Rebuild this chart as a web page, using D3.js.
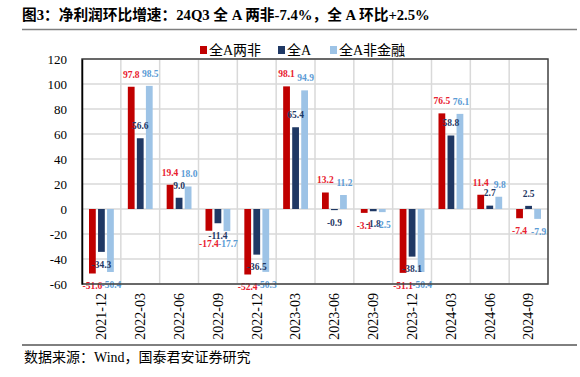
<!DOCTYPE html>
<html>
<head>
<meta charset="utf-8">
<script src="https://cdn.jsdelivr.net/npm/d3@7"></script>
<style>
  body { margin: 0; background: #fff; }
  svg { display: block; }
</style>
</head>
<body>
<div id="chart"></div>
<script>
const categories = ["2021-12", "2022-03", "2022-06", "2022-09", "2022-12", "2023-03",
    "2023-06", "2023-09", "2023-12", "2024-03", "2024-06", "2024-09"];
const seriesNames = ["全A两非", "全A", "全A非金融"];
const liangfei = [-51.6, 97.8, 19.4, -17.4, -52.4, 98.1, 13.2, -3.1, -51.1, 76.5, 11.4, -7.4];
const quanA = [-34.3, 56.6, 9.0, -11.4, -36.5, 65.4, -0.9, -1.8, -38.1, 58.8, 2.7, 2.5];
const feijinrong = [-50.4, 98.5, 18.0, -17.7, -50.3, 94.9, 11.2, -2.5, -50.4, 76.1, 9.8, -7.9];
const yTicks = [-60, -40, -20, 0, 20, 40, 60, 80, 100, 120];

const width = 580;
const height = 377;
const margin = { top: 59, right: 32, bottom: 93, left: 82 };

const barColors = ["#c00000", "#1f3864", "#9dc3e6"];
const labelColors = ["#e8202e", "#1f3864", "#5b9bd5"];
const serif = "'Liberation Serif', 'Times New Roman', 'Noto Sans CJK SC', serif";

const seriesValues = [liangfei, quanA, feijinrong];
const rows = categories.map((c, i) => ({
    cat: c,
    vals: seriesNames.map((s, k) => ({ key: s, k: k, value: seriesValues[k][i] }))
}));

// plain hyphen instead of d3's unicode minus
const fmt = v => v.toFixed(1);

const svg = d3.select("#chart")
    .append("svg")
    .attr("width", width)
    .attr("height", height);

const x = d3.scaleBand()
    .domain(categories)
    .range([margin.left, width - margin.right]);

const xInner = d3.scaleBand()
    .domain(seriesNames)
    .range([7, x.bandwidth() - 7])
    .paddingInner(0.25);

const y = d3.scaleLinear()
    .domain([-60, 120])
    .range([height - margin.bottom, margin.top]);

// title
svg.append("text")
    .attr("x", 22)
    .attr("y", 20)
    .attr("font-family", serif)
    .attr("font-weight", "bold")
    .attr("font-size", 14.7)
    .attr("fill", "#000")
    .text("图3：净利润环比增速：24Q3 全 A 两非-7.4%，全 A 环比+2.5%");

svg.append("line")
    .attr("x1", 22).attr("x2", 577)
    .attr("y1", 29.5).attr("y2", 29.5)
    .attr("stroke", "#7f7f7f")
    .attr("stroke-width", 1.5);

// gridlines
svg.append("g")
    .selectAll("line")
    .data(yTicks)
    .join("line")
    .attr("x1", margin.left).attr("x2", width - margin.right)
    .attr("y1", d => y(d)).attr("y2", d => y(d))
    .attr("stroke", "#d9d9d9")
    .attr("stroke-width", 1.5);

svg.append("g")
    .selectAll("line")
    .data(categories.slice(1))
    .join("line")
    .attr("x1", d => x(d)).attr("x2", d => x(d))
    .attr("y1", margin.top).attr("y2", height - margin.bottom)
    .attr("stroke", "#d9d9d9")
    .attr("stroke-width", 1.5);

// bars
const groups = svg.append("g")
    .selectAll("g")
    .data(rows)
    .join("g")
    .attr("transform", d => `translate(${x(d.cat)},0)`);

groups.selectAll("rect")
    .data(d => d.vals)
    .join("rect")
    .attr("x", d => xInner(d.key))
    .attr("width", xInner.bandwidth())
    .attr("y", d => y(Math.max(0, d.value)))
    .attr("height", d => Math.abs(y(d.value) - y(0)))
    .attr("fill", d => barColors[d.k]);

// value labels
groups.selectAll("text")
    .data(d => d.vals)
    .join("text")
    .attr("x", d => xInner(d.key) + xInner.bandwidth() / 2 + (d.k === 2 ? 1 : 0))
    .attr("y", d => d.value >= 0 ? y(d.value) - 12.5 : y(d.value) + 12.5)
    .attr("dy", "0.35em")
    .attr("text-anchor", "middle")
    .attr("font-family", serif)
    .attr("font-weight", "bold")
    .attr("font-size", 9.5)
    .attr("fill", d => labelColors[d.k])
    .text(d => fmt(d.value));

// frame
svg.append("rect")
    .attr("x", margin.left)
    .attr("y", margin.top)
    .attr("width", width - margin.left - margin.right)
    .attr("height", height - margin.top - margin.bottom)
    .attr("fill", "none")
    .attr("stroke", "#404040")
    .attr("stroke-width", 1.5);

// y axis
const yAxis = svg.append("g")
    .attr("transform", `translate(${margin.left},0)`)
    .call(d3.axisLeft(y).tickValues(yTicks).tickSize(0).tickPadding(15)
        .tickFormat(d => String(d)));
yAxis.select(".domain").attr("stroke", "#000").attr("stroke-width", 1.5);
yAxis.selectAll("text")
    .attr("font-family", serif)
    .attr("font-size", 13)
    .attr("fill", "#000");

// x axis labels
const xAxis = svg.append("g")
    .attr("transform", `translate(0,${height - margin.bottom})`)
    .call(d3.axisBottom(x).tickSize(0));
xAxis.select(".domain").remove();
xAxis.selectAll("text")
    .attr("font-family", serif)
    .attr("font-size", 14)
    .attr("fill", "#000")
    .attr("text-anchor", "end")
    .attr("transform", "rotate(-90)")
    .attr("x", -9)
    .attr("y", 0)
    .attr("dy", "0.35em");

// legend
const legendX = [200, 278, 330];
const legend = svg.append("g")
    .selectAll("g")
    .data(seriesNames)
    .join("g")
    .attr("transform", (d, i) => `translate(${legendX[i]},50)`);
legend.append("rect")
    .attr("x", 0).attr("y", -4)
    .attr("width", 7).attr("height", 8)
    .attr("fill", (d, i) => barColors[i]);
legend.append("text")
    .attr("x", 9)
    .attr("dy", "0.35em")
    .attr("font-family", serif)
    .attr("font-size", 14)
    .attr("fill", "#000")
    .text(d => d);

// source
svg.append("line")
    .attr("x1", 22).attr("x2", 577)
    .attr("y1", 345).attr("y2", 345)
    .attr("stroke", "#000")
    .attr("stroke-width", 1);

svg.append("text")
    .attr("x", 24)
    .attr("y", 357)
    .attr("dy", "0.35em")
    .attr("font-family", serif)
    .attr("font-size", 14)
    .attr("fill", "#000")
    .text("数据来源：Wind，国泰君安证券研究");
</script>
</body>
</html>
